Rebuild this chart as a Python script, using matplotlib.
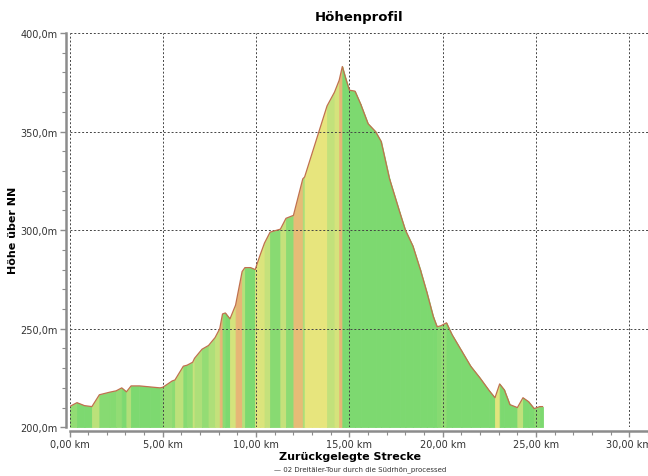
import matplotlib
matplotlib.use('Agg')
import matplotlib.pyplot as plt
import matplotlib.ticker as mticker
from matplotlib.colors import LinearSegmentedColormap, Normalize
import numpy as np

strecke = [0.0, 0.4, 0.8, 1.2, 1.6, 2.15, 2.5, 2.8, 3.05, 3.3, 3.75, 4.3, 4.85, 5.0,
           5.5, 5.65, 6.1, 6.3, 6.6, 6.7, 7.1, 7.45, 7.8, 8.05, 8.2, 8.35, 8.6, 8.9,
           9.25, 9.4, 9.7, 9.95, 10.2, 10.45, 10.75, 11.3, 11.6, 12.0, 12.5, 12.6,
           13.0, 13.4, 13.8, 14.2, 14.45, 14.62, 14.8, 15.0, 15.3, 15.6, 16.0, 16.4,
           16.7, 17.15, 17.7, 18.0, 18.4, 18.8, 19.15, 19.5, 19.7, 19.9, 20.2, 20.5,
           21.0, 21.5, 22.0, 22.5, 22.8, 23.05, 23.3, 23.6, 24.0, 24.3, 24.6, 24.9,
           25.2, 25.35]
hoehe = [210.5, 212.5, 211, 210.5, 216.5, 217.8, 218.5, 220, 218, 221, 221, 220.5, 220, 220.3,
         223.5, 224, 231, 231.5, 233, 235, 239.6, 241.5, 245.5, 250, 257.5, 258, 255, 262,
         279, 281, 281, 280, 287, 293.5, 299, 300.5, 306, 307.5, 326, 327,
         339, 351, 363, 370, 376, 383, 377, 371, 370.5, 364, 354, 350,
         345, 326, 309, 300, 292, 280, 268.5, 256, 251, 251.5, 253, 247,
         239, 231, 225, 218.5, 215, 222, 219, 211.5, 210, 215, 213, 209.5,
         210.5, 210.5]

x_ticks = [0, 5, 10, 15, 20, 25, 30]
y_ticks = [200, 250, 300, 350, 400]

km = np.array(strecke)
h = np.array(hoehe)

# Steigung in Prozent pro Abschnitt -> Farbe
steigung = np.diff(h) / (np.diff(km) * 1000) * 100
cmap = LinearSegmentedColormap.from_list(
    'steigung', [(0.0, '#7dd970'), (0.35, '#b6e07a'), (0.8, '#e8e57d'), (1.0, '#e6b676')])
norm = Normalize(vmin=0, vmax=3.8, clip=True)

fig = plt.figure(figsize=(6.48, 4.77), dpi=100)
ax = fig.add_axes([69.5 / 648, 48.7 / 477, 1 - 69.5 / 648, (428.3 - 34) / 477])

for i in range(len(km) - 1):
    c = cmap(norm(steigung[i]))
    ax.fill_between(km[i:i + 2], h[i:i + 2], 200, facecolor=c, edgecolor=c,
                    linewidth=0.6, zorder=1)
ax.plot(km, h, color='#c0704e', linewidth=0.9, zorder=3)

ax.set_xlim(0, 31)
ax.set_ylim(200, 400)
ax.set_xticks(x_ticks)
ax.set_yticks(y_ticks)
ax.xaxis.set_minor_locator(mticker.MultipleLocator(1))
ax.yaxis.set_minor_locator(mticker.MultipleLocator(10))
ax.xaxis.set_major_formatter(mticker.FuncFormatter(lambda v, p: f"{v:.2f}".replace('.', ',') + " km"))
ax.yaxis.set_major_formatter(mticker.FuncFormatter(lambda v, p: f"{v:.1f}".replace('.', ',') + "m"))

ax.set_axisbelow(False)
ax.grid(True, which='major', color='#444444', linestyle=(0, (2, 2)), linewidth=0.7)

for s in ['top', 'right']:
    ax.spines[s].set_visible(False)
for s in ['left', 'bottom']:
    ax.spines[s].set_color('#8c8c8c')
    ax.spines[s].set_linewidth(1.8)
    ax.spines[s].set_position(('outward', 2.5))

ax.tick_params(which='major', length=4, width=1, color='#8c8c8c', labelsize=7,
               labelcolor='#333333', pad=2)
ax.tick_params(which='minor', length=3, width=0.8, color='#8c8c8c')

fig.text(359 / 648, 1 - 18 / 477, 'Höhenprofil', ha='center', va='center',
         fontsize=9.5, fontweight='bold')
fig.text(350 / 648, 1 - 457 / 477, 'Zurückgelegte Strecke', ha='center', va='center',
         fontsize=8, fontweight='bold')
fig.text(13 / 648, 1 - 230 / 477, 'Höhe über NN', ha='center', va='center',
         rotation=90, fontsize=8, fontweight='bold')
fig.text(360 / 648, 1 - 470 / 477, '— 02 Dreitäler-Tour durch die Südrhön_processed',
         ha='center', va='center', fontsize=5, color='#333333')

plt.savefig('out.png', dpi=100)
plt.close()
